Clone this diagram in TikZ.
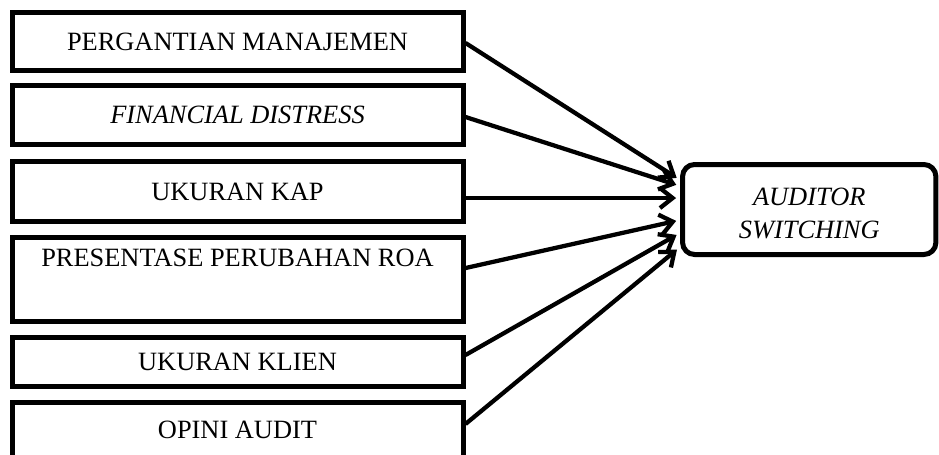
\documentclass[tikz,border=0pt]{standalone}
\usepackage{fontspec}
\setmainfont{Liberation Serif}
\usetikzlibrary{arrows.meta}

\begin{document}
\begin{tikzpicture}[x=0.75pt,y=-0.75pt,
    var/.style={draw,line width=3.75pt,minimum width=338.25pt,inner sep=0pt,align=center,font=\fontsize{19.8}{24.75}\selectfont},
    arr/.style={line width=3.2pt,-{Straight Barb[length=9.5pt,width=15pt]},shorten >=3pt}]
    \useasboundingbox (0,0) rectangle (939,454);
    \node [var,minimum height=43.5pt] (pm) at (237.5,41.5) {PERGANTIAN MANAJEMEN};
    \node [var,minimum height=44.25pt] (fd) at (237.5,115) {\textit{FINANCIAL DISTRESS}};
    \node [var,minimum height=45pt] (kap) at (237.5,191.5) {UKURAN KAP};
    \node [var,minimum height=63pt] (roa) at (237.5,279.5) {PRESENTASE PERUBAHAN ROA\\\strut};
    \node [var,minimum height=36.75pt] (klien) at (237.5,362) {UKURAN KLIEN};
    \node [var,minimum height=41.25pt] (opini) at (237.5,430) {OPINI AUDIT};
    \node [draw,line width=3.75pt,rounded corners=9pt,minimum width=190pt,minimum height=67.5pt,
        align=center,font=\fontsize{19.8}{24.75}\selectfont\itshape] (as) at (809.25,209.5) {\rule{0pt}{19pt}AUDITOR\\SWITCHING};
    \draw [arr] ([yshift=-1.1pt]pm.east) -- ([yshift=22.1pt]as.west);
    \draw [arr] ([yshift=-1.5pt]fd.east) -- ([yshift=17.6pt]as.west);
    \draw [arr] ([yshift=-4.9pt]kap.east) -- ([yshift=8.6pt]as.west);
    \draw [arr] ([yshift=8.6pt]roa.east) -- ([yshift=-7.9pt]as.west);
    \draw [arr] ([yshift=5.25pt]klien.east) -- ([yshift=-17.6pt]as.west);
    \draw [arr] ([yshift=4.5pt]opini.east) -- ([yshift=-28.1pt]as.west);
\end{tikzpicture}
\end{document}
